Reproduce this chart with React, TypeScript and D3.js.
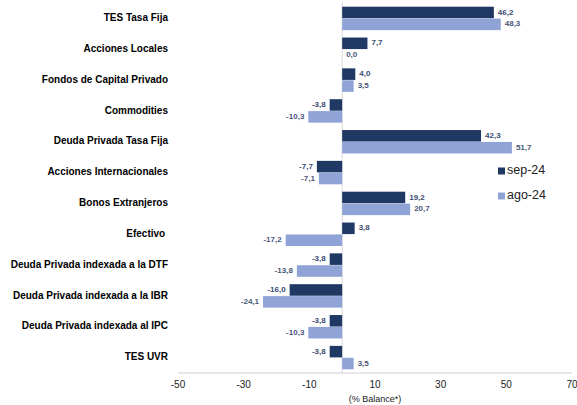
import * as d3 from 'd3'

const WIDTH = 577
const HEIGHT = 405

const categories = [
  'TES Tasa Fija',
  'Acciones Locales',
  'Fondos de Capital Privado',
  'Commodities',
  'Deuda Privada Tasa Fija',
  'Acciones Internacionales',
  'Bonos Extranjeros',
  'Efectivo ',
  'Deuda Privada indexada a la DTF',
  'Deuda Privada indexada a la IBR',
  'Deuda Privada indexada al IPC',
  'TES UVR',
]
const sep24 = [46.2, 7.7, 4.0, -3.8, 42.3, -7.7, 19.2, 3.8, -3.8, -16.0, -3.8, -3.8]
const ago24 = [48.3, 0.0, 3.5, -10.3, 51.7, -7.1, 20.7, -17.2, -13.8, -24.1, -10.3, 3.5]
const seriesNames = ['sep-24', 'ago-24']
const xTicks = [-50, -30, -10, 10, 30, 50, 70]

const COLORS = ['#1f3864', '#8fa3d6']
const FONT = 'Liberation Sans, Arial, sans-serif'

// comma decimal, plain hyphen for negatives (d3 uses a unicode minus)
const fmt = (v: number) => d3.format('.1f')(v).replace('.', ',').replace('\u2212', '-')

export default function App() {
  const x = d3.scaleLinear().domain([-50, 70]).range([178, 572])
  const y = d3.scaleBand<string>().domain(categories).range([3, 373]).padding(0)
  const sub = d3
    .scaleBand<string>()
    .domain(seriesNames)
    .range([y.bandwidth() * 0.12, y.bandwidth() * 0.88])
    .paddingInner(0.03)

  const values = [sep24, ago24]

  const bars = categories.flatMap((cat, i) =>
    seriesNames.map((s, j) => {
      const v = values[j][i]
      const y0 = (y(cat) ?? 0) + (sub(s) ?? 0)
      const x0 = x(Math.min(0, v))
      const w = Math.abs(x(v) - x(0))
      const pos = v >= 0
      return (
        <g key={`${cat}-${s}`}>
          <rect x={x0} y={y0} width={w} height={sub.bandwidth()} fill={COLORS[j]} />
          <text
            x={pos ? x(v) + 4 : x(v) - 4}
            y={y0 + sub.bandwidth() / 2}
            textAnchor={pos ? 'start' : 'end'}
            dominantBaseline="middle"
            fontSize={8}
            fontWeight="bold"
            fill={j === 0 ? '#3a4a70' : '#4a5878'}
          >
            {fmt(v)}
          </text>
        </g>
      )
    })
  )

  const labels = categories.map((cat) => (
    <text
      key={cat}
      x={168}
      y={(y(cat) ?? 0) + y.bandwidth() / 2}
      textAnchor="end"
      dominantBaseline="middle"
      fontSize={10}
      fontWeight="bold"
      fill="#000"
      style={{ whiteSpace: 'pre' }}
    >
      {cat}
    </text>
  ))

  const ticks = xTicks.map((t) => (
    <text key={t} x={x(t)} y={385} textAnchor="middle" dominantBaseline="middle" fontSize={10} fill="#222">
      {t}
    </text>
  ))

  return (
    <svg
      width={WIDTH}
      height={HEIGHT}
      style={{ position: 'absolute', left: 0, top: 0, background: '#fff' }}
      fontFamily={FONT}
    >
      <line x1={x(0)} x2={x(0)} y1={2} y2={373} stroke="#d9d9d9" strokeWidth={1} />
      {bars}
      <line x1={x(-50)} x2={x(70)} y1={373} y2={373} stroke="#d0d0d0" strokeWidth={1} />
      {labels}
      {ticks}
      <text x={375} y={400} textAnchor="middle" dominantBaseline="middle" fontSize={9} fill="#222">
        (% Balance*)
      </text>
      {seriesNames.map((s, j) => (
        <g key={s} transform={`translate(498,${171 + j * 25})`}>
          <rect x={0} y={-3.5} width={7} height={7} fill={COLORS[j]} />
          <text x={9} y={0} dominantBaseline="middle" fontSize={12.5} fill="#222">
            {s}
          </text>
        </g>
      ))}
    </svg>
  )
}
